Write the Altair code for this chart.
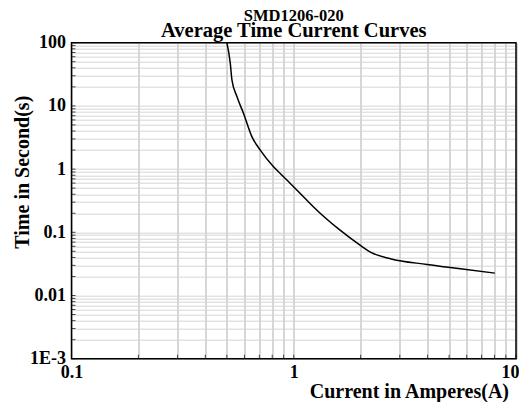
import altair as alt
import pandas as pd

# Curve data
current = [0.5, 0.518, 0.527, 0.555, 0.594, 0.648, 0.707, 0.811, 0.869, 0.965,
           1.146, 1.228, 1.6, 1.994, 2.212, 2.72, 3.98, 5.62, 8.03]
time_s = [100, 47.6, 25.9, 14.05, 7.65, 3.26, 2.0, 1.09, 0.853, 0.593,
          0.322, 0.252, 0.111, 0.0622, 0.0487, 0.0382, 0.031, 0.0265, 0.0226]

x_grid = [m * d for d in [0.1, 1] for m in range(1, 10)] + [10]
y_grid = [m * d for d in [0.001, 0.01, 0.1, 1, 10] for m in range(1, 10)] + [100]
x_grid = [round(v, 6) for v in x_grid]
y_grid = [round(v, 6) for v in y_grid]

title_lines = ["SMD1206-020", "Average Time Current Curves"]
title_sizes = [16.5, 20.5]
title_offsets = [-21.5, -5.3]

W, H = 444.5, 316
FONT = "Liberation Serif"

curve_df = pd.DataFrame({"current": current, "time": time_s})
xt_df = pd.DataFrame({"current": x_grid})
yt_df = pd.DataFrame({"time": y_grid})
frame_df = pd.DataFrame({"k": [0]})

xscale = alt.Scale(type="log", domain=[0.1, 10], nice=False)
yscale = alt.Scale(type="log", domain=[0.001, 100], nice=False)

is_decade = "abs(log(datum.value)/LN10 - round(log(datum.value)/LN10)) < 1e-6"

xaxis = alt.Axis(
    values=x_grid,
    labelExpr=is_decade + " ? format(datum.value, '') : ''",
    grid=True, gridColor="#c0c0c0", gridWidth=1.3,
    ticks=False, domain=False,
    labelFont=FONT, labelFontSize=18, labelFontWeight="bold", labelColor="black",
    labelPadding=5, labelFlush=False, labelOverlap=False,
    labelAlign={"condition": {"test": "datum.value >= 9.99", "value": "right"}, "value": "center"},
    labelOffset={"condition": {"test": "datum.value >= 9.99", "value": 3}, "value": 0},
    title="Current in Amperes(A)", titleFont=FONT, titleFontSize=20,
    titleFontWeight="bold", titleColor="black",
    titleAnchor="end", titleAlign="right", titleX=437, titleY=33, titleBaseline="middle",
)
yaxis = alt.Axis(
    values=y_grid,
    labelExpr=is_decade + " ? (datum.value < 0.005 ? '1E-3' : format(datum.value, '')) : ''",
    grid=True, gridColor="#d6d6d6", gridWidth=1,
    ticks=False, domain=False,
    labelFont=FONT, labelFontSize=18, labelFontWeight="bold", labelColor="black",
    labelPadding=6, labelFlush=False, labelOverlap=False,
    title="Time in Second(s)", titleFont=FONT, titleFontSize=20,
    titleFontWeight="bold", titleColor="black",
    titleX=-49.5, titleY=129, titleBaseline="middle", titleAngle=270, titleAlign="center",
)

line = alt.Chart(curve_df).mark_line(color="black", strokeWidth=1.5, interpolate="monotone", clip=True).encode(
    x=alt.X("current:Q", scale=xscale, axis=xaxis),
    y=alt.Y("time:Q", scale=yscale, axis=yaxis),
)

yticks = alt.Chart(yt_df).mark_tick(color="black", thickness=1, size=4, orient="horizontal").encode(
    y=alt.Y("time:Q", scale=yscale),
    x=alt.value(2),
)
xticks = alt.Chart(xt_df).mark_tick(color="black", thickness=1, size=4, orient="vertical").encode(
    x=alt.X("current:Q", scale=xscale),
    y=alt.value(H - 2),
)
frame = alt.Chart(frame_df).mark_rect(fill=None, fillOpacity=0, stroke="black", strokeWidth=1.5).encode(
    x=alt.value(0), x2=alt.value(W), y=alt.value(0), y2=alt.value(H),
)

title_layers = [
    alt.Chart(pd.DataFrame({"t": [txt]})).mark_text(
        font=FONT, fontSize=sz, fontWeight="bold", color="black",
        align="center", baseline="alphabetic",
    ).encode(text="t:N", x=alt.value(W / 2), y=alt.value(off))
    for txt, sz, off in zip(title_lines, title_sizes, title_offsets)
]

chart = alt.layer(line, yticks, xticks, frame, *title_layers).properties(
    width=W, height=H,
    padding={"left": 63.5, "top": 34.7, "right": 3, "bottom": 43.3},
    autosize=alt.AutoSizeParams(type="none"),
).configure_view(strokeWidth=0).configure(background="white")

chart.save("out.html", embed_options={"renderer": "svg", "actions": False})
